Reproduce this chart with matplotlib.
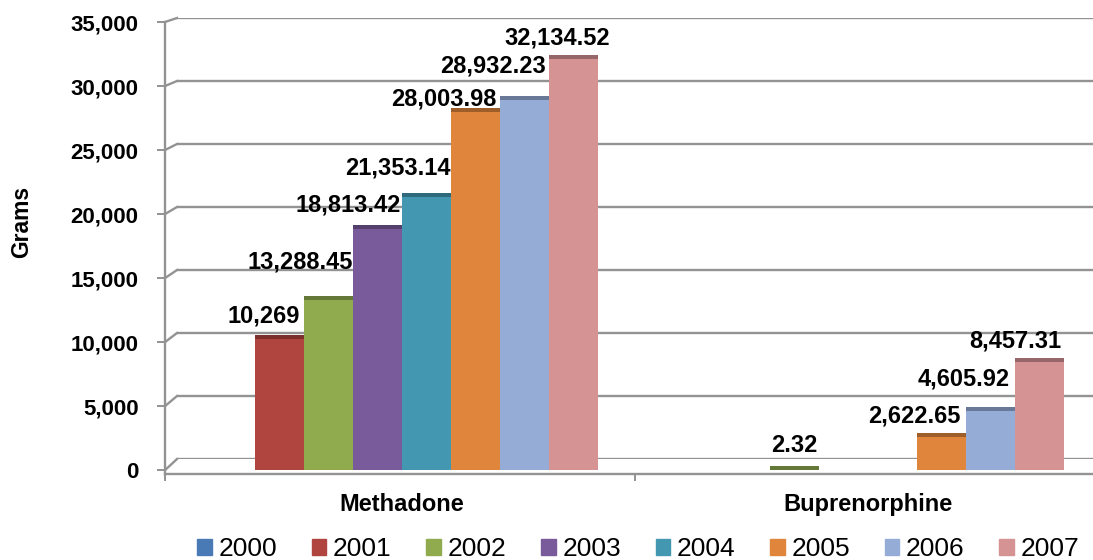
import numpy as np
import matplotlib
matplotlib.use('Agg')
import matplotlib.pyplot as plt
from matplotlib.lines import Line2D
from matplotlib.colors import to_rgb

plt.rcParams['font.family'] = ['Liberation Sans', 'DejaVu Sans']

drugs = ['Methadone', 'Buprenorphine']
years = ['2000', '2001', '2002', '2003', '2004', '2005', '2006', '2007']
# grams per year, nan = not reported
methadone = [np.nan, 10269, 13288.45, 18813.42, 21353.14, 28003.98, 28932.23, 32134.52]
buprenorphine = [np.nan, np.nan, 2.32, np.nan, np.nan, 2622.65, 4605.92, 8457.31]
yticks = [0, 5000, 10000, 15000, 20000, 25000, 30000, 35000]

colors = ['#4a7ab5', '#b0453f', '#8fab4e', '#795a9a', '#4397b1',
          '#e0863c', '#94acd6', '#d69394']

# label nudges (pixels) so the data labels sit like the 3d excel ones
label_off = {
    (0, 1): (-16, 16), (0, 2): (-28, 32), (0, 3): (-29, 18), (0, 4): (-29, 22),
    (0, 5): (-32, 6), (0, 6): (-32, 27), (0, 7): (-16, 14),
    (1, 2): (0, 18), (1, 5): (-27, 14), (1, 6): (-27, 26), (1, 7): (-24, 14),
}

W, H = 1093, 560
fig = plt.figure(figsize=(W / 100, H / 100), dpi=100)

def px_box(x0, x1, ytop, ybot):
    return [x0 / W, 1 - ybot / H, (x1 - x0) / W, (ybot - ytop) / H]

grid_c = '#939393'

# back wall with the gridlines
back = fig.add_axes(px_box(177, W, 18, 459), zorder=0)
back.set_ylim(0, 35000)
back.set_xlim(0, 1)
back.axis('off')
for v in yticks:
    back.axhline(v, color=grid_c, lw=1.7)

# front: bars, ticks, labels
ax = fig.add_axes(px_box(165, W, 22, 474), zorder=1)
ax.patch.set_alpha(0)
ax.set_ylim(-300, 35000)
xleft, xright = -0.5086, 0.4828
ax.set_xlim(xleft, xright + 1)

bw = 0.1052
px_per_unit = (474 - 22) / 35300.0
cap_h = 4 / px_per_unit

def darker(c, f=0.7):
    r, g, b = to_rgb(c)
    return (r * f, g * f, b * f)

for g, vals in enumerate([methadone, buprenorphine]):
    for i, v in enumerate(vals):
        if np.isnan(v):
            continue
        x = g + (i - 3.5) * bw
        ax.bar(x, v, width=bw, color=colors[i], edgecolor='none', zorder=3)
        ax.bar(x, cap_h, bottom=v, width=bw, color=darker(colors[i]),
               edgecolor='none', zorder=3)
        txt = f'{v:,.0f}' if float(v).is_integer() else f'{v:,.2f}'
        dx, dy = label_off[(g, i)]
        ax.annotate(txt, (x, v), xytext=(dx, dy), textcoords='offset pixels',
                    ha='center', va='baseline', fontsize=17, fontweight='bold',
                    zorder=5)

for s in ['top', 'right']:
    ax.spines[s].set_visible(False)
for s in ['left', 'bottom']:
    ax.spines[s].set_color(grid_c)
    ax.spines[s].set_linewidth(1.7)

ax.set_yticks(yticks)
ax.set_yticklabels([f'{v:,}' for v in yticks], fontsize=16, fontweight='bold')
ax.tick_params(axis='y', direction='out', length=6, width=1.4, color=grid_c, pad=13)

ax.set_xticks([0, 1])
ax.set_xticklabels(drugs, fontsize=17, fontweight='bold')
ax.tick_params(axis='x', which='major', length=0, pad=14)
ax.set_xticks([xleft, 0.5], minor=True)
ax.tick_params(axis='x', which='minor', direction='out', length=5, width=1.4, color=grid_c)

ax.set_ylabel('Grams', fontsize=16.5, fontweight='bold')
ax.yaxis.set_label_coords(-0.142, 0.557)

# slanted joins from the front ticks to the back gridlines
inv = fig.transFigure.inverted()
for v in yticks:
    p0 = inv.transform(ax.transData.transform((xleft, v)))
    p1 = inv.transform(back.transData.transform((0, v)))
    fig.add_artist(Line2D([p0[0], p1[0]], [p0[1], p1[1]], color=grid_c,
                          lw=1.7, transform=fig.transFigure))

handles = [plt.Rectangle((0, 0), 1, 1, color=c) for c in colors]
fig.legend(handles, years, loc='center', bbox_to_anchor=(0.584, 0.019), ncol=8,
           frameon=False, fontsize=19, handlelength=0.55, handleheight=0.55,
           handletextpad=0.25, columnspacing=1.32, borderaxespad=0)

fig.savefig('out.png', dpi=100)
